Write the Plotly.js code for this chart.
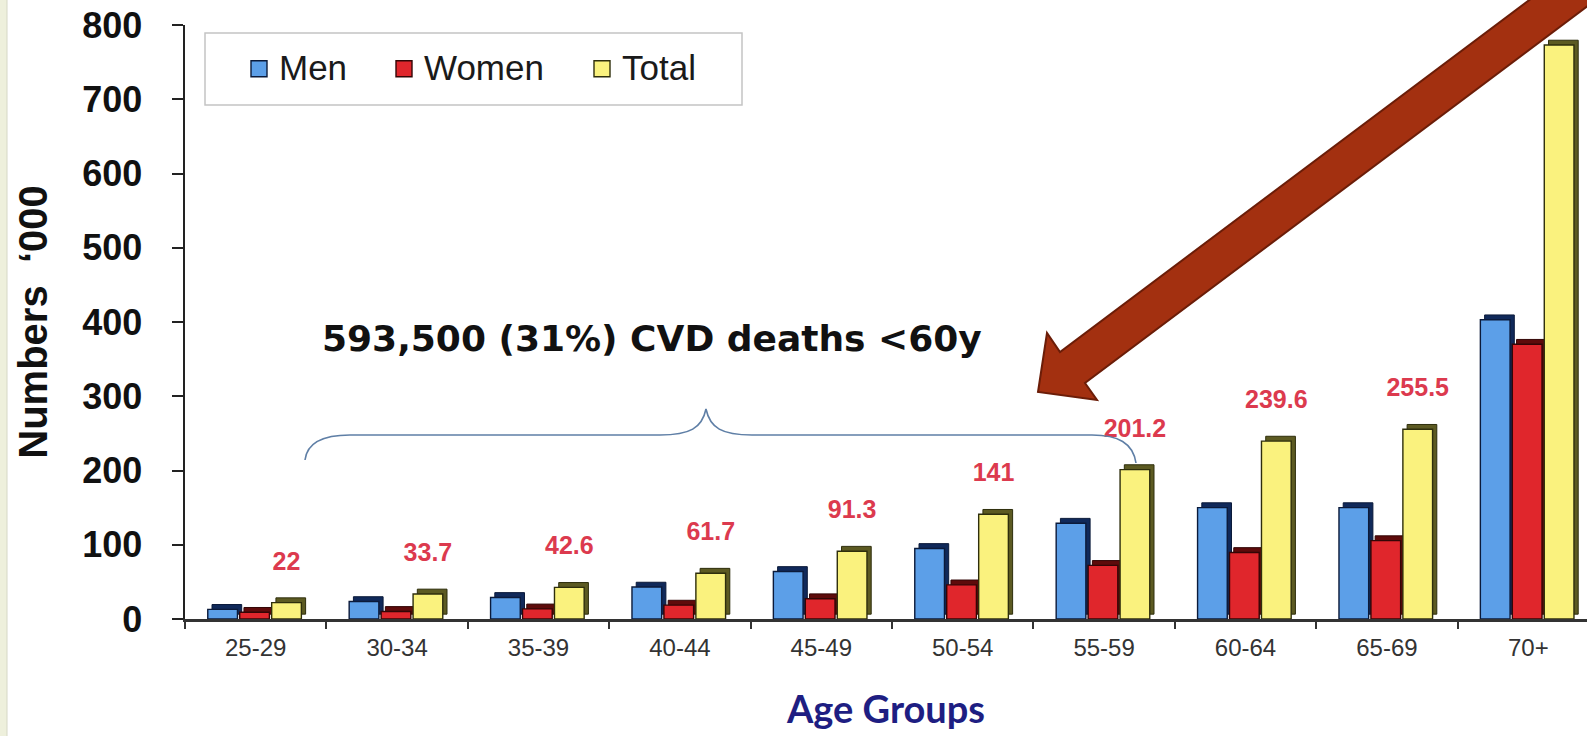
<!DOCTYPE html>
<html>
<head>
<meta charset="utf-8">
<script src="https://cdn.plot.ly/plotly-3.0.1.min.js"></script>
<style>
  html, body { margin: 0; padding: 0; background: #ffffff; }
  #chart { width: 1587px; height: 736px; }
</style>
</head>
<body>
<div id="chart"></div>
<script>
// CVD deaths by age group, thousands
const ageGroups = ['25-29', '30-34', '35-39', '40-44', '45-49', '50-54', '55-59', '60-64', '65-69', '70+'];
const men   = [13, 23.5, 29, 43, 64, 95, 129, 150, 150, 403];
const women = [9, 10.2, 13.6, 18.7, 27.3, 46, 72.2, 89.6, 105.5, 370];
const total = [22, 33.7, 42.6, 61.7, 91.3, 141, 201.2, 239.6, 255.5, 773];
const seriesNames = ['Men', 'Women', 'Total'];
const yTickValues = [0, 100, 200, 300, 400, 500, 600, 700, 800];
const noteText = '593,500 (31%) CVD deaths <60y';

// page geometry
const W = 1587, H = 736;
const margin = { l: 185, r: 0, t: 25, b: 117, pad: 0 };
const plotW = W - margin.l - margin.r;
const plotH = H - margin.t - margin.b;
const px = X => (X - margin.l) / plotW;          // pixel -> paper x
const py = Y => (H - margin.b - Y) / plotH;      // pixel -> paper y
const pt = p => px(p[0]).toFixed(5) + ',' + py(p[1]).toFixed(5);

const ARIAL = 'Liberation Sans, Arial, sans-serif';

// bar styling: face colour, side/top shade, outline
const faceColors  = ['#5c9fe8', '#e0262c', '#faf27e'];
const shadeColors = ['#10295a', '#5e0b0b', '#5c5a22'];
const edgeColors  = ['#0b1a3a', '#330606', '#2e2e0c'];
const faceW = 0.21, depthX = 0.03, depthY = 6.5;
const offsets = [-0.339, -0.113, 0.113];
const values = [men, women, total];

const traces = [];
// shaded depth behind each bar (gives the bevelled 3-D look)
values.forEach((v, i) => {
  traces.push({
    type: 'bar', x: ageGroups, y: v, base: depthY,
    offset: offsets[i] + depthX, width: faceW,
    marker: { color: shadeColors[i], line: { color: edgeColors[i], width: 1 } },
    showlegend: false, hoverinfo: 'skip'
  });
});
// bar faces
const legendIds = ['legend', 'legend2', 'legend3'];
values.forEach((v, i) => {
  traces.push({
    type: 'bar', name: seriesNames[i], x: ageGroups, y: v,
    offset: offsets[i], width: faceW,
    marker: { color: faceColors[i], line: { color: edgeColors[i], width: 1.4 } },
    legend: legendIds[i]
  });
});
// totals written above the Total bars
traces.push({
  type: 'scatter', mode: 'text', x: ageGroups, y: total,
  xaxis: 'x2', yaxis: 'y2',
  text: total.map(v => String(v)),
  textposition: 'middle center',
  textfont: { family: ARIAL, size: 25, weight: 700, color: '#dc3a4e' },
  cliponaxis: false, showlegend: false, hoverinfo: 'skip'
});

const xRange = [-0.5, -0.5 + plotW / 141.4];
const labelShiftX = offsets[2] + faceW / 2;

const legendBase = {
  orientation: 'h', xanchor: 'left', yanchor: 'middle', y: py(67),
  bgcolor: 'rgba(0,0,0,0)', borderwidth: 0,
  font: { family: ARIAL, size: 35, color: '#1a1a1a' }
};

const brace = [
  'M', pt([305, 460]),
  'C', pt([307, 443]), pt([322, 435]), pt([350, 435]),
  'L', pt([660, 435]),
  'C', pt([690, 435]), pt([702, 428]), pt([706, 409]),
  'C', pt([710, 428]), pt([722, 435]), pt([752, 435]),
  'L', pt([1092, 435]),
  'C', pt([1118, 435]), pt([1133, 443]), pt([1136, 463])
].join(' ');

const arrowPts = [[1038, 392], [1047, 333], [1060, 352], [1620, -68], [1645, -37], [1085, 383], [1097, 400]];
const arrow = 'M ' + arrowPts.map(pt).join(' L ') + ' Z';

const layout = {
  width: W, height: H, margin: margin,
  paper_bgcolor: '#ffffff', plot_bgcolor: '#ffffff',
  barmode: 'overlay',
  xaxis: {
    type: 'category', categoryarray: ageGroups, range: xRange,
    tickson: 'boundaries', ticks: 'outside', ticklen: 7, tickwidth: 2, tickcolor: '#333333',
    showline: true, linecolor: '#333333', linewidth: 2.5,
    showgrid: false, zeroline: false,
    tickfont: { family: ARIAL, size: 24, color: '#333333' },
    ticklabelstandoff: 6,
    title: { text: 'Age Groups', standoff: 36,
             font: { family: 'Lato, Open Sans, sans-serif', size: 38, weight: 700, color: '#1e1e82' } }
  },
  yaxis: {
    range: [0, 800], tickmode: 'array', tickvals: yTickValues,
    ticks: 'outside', ticklen: 11, tickwidth: 2, tickcolor: '#222222',
    showline: true, linecolor: '#222222', linewidth: 2.5,
    showgrid: false, zeroline: false,
    tickfont: { family: ARIAL, size: 36, weight: 700, color: '#111111' },
    ticklabelstandoff: 22,
    title: { text: 'Numbers\u00a0 \u2018000', standoff: 22,
             font: { family: ARIAL, size: 40, weight: 700, color: '#111111' } }
  },
  xaxis2: {
    type: 'category', categoryarray: ageGroups, overlaying: 'x', visible: false,
    range: [xRange[0] - labelShiftX, xRange[1] - labelShiftX]
  },
  yaxis2: { overlaying: 'y', visible: false, range: [-53, 747] },
  legend:  Object.assign({}, legendBase, { x: px(239) }),
  legend2: Object.assign({}, legendBase, { x: px(384) }),
  legend3: Object.assign({}, legendBase, { x: px(582) }),
  annotations: [{
    xref: 'paper', yref: 'paper', x: px(652), y: py(339),
    xanchor: 'center', yanchor: 'middle', showarrow: false,
    text: noteText,
    font: { family: 'DejaVu Sans, sans-serif', size: 36, weight: 700, color: '#111111' }
  }],
  shapes: [
    // pale slide edge on the left
    { type: 'rect', xref: 'paper', yref: 'paper', x0: px(0), x1: px(7), y0: py(H), y1: py(0),
      fillcolor: '#eef0dc', line: { width: 0 }, layer: 'above' },
    { type: 'line', xref: 'paper', yref: 'paper', x0: px(7), x1: px(7), y0: py(H), y1: py(0),
      line: { color: '#d6d8c6', width: 1 }, layer: 'above' },
    // legend frame
    { type: 'rect', xref: 'paper', yref: 'paper', x0: px(205), x1: px(742), y0: py(105), y1: py(33),
      fillcolor: '#ffffff', line: { color: '#c4c4c4', width: 1.5 }, layer: 'above' },
    // brace over the under-60 groups
    { type: 'path', xref: 'paper', yref: 'paper', path: brace,
      line: { color: '#5f7fa6', width: 1.6 }, layer: 'above' },
    // pointer arrow
    { type: 'path', xref: 'paper', yref: 'paper', path: arrow,
      fillcolor: '#a33010', line: { color: '#6b1d08', width: 2 }, layer: 'above' }
  ],
  showlegend: true
};

Plotly.newPlot('chart', traces, layout, { displayModeBar: false, staticPlot: true }).then(gd => {
  // legend swatches a little larger than the default
  gd.querySelectorAll('g.legendpoints path').forEach(p => p.setAttribute('d', 'M8,10H-8V-6H8Z'));
});
</script>
</body>
</html>
